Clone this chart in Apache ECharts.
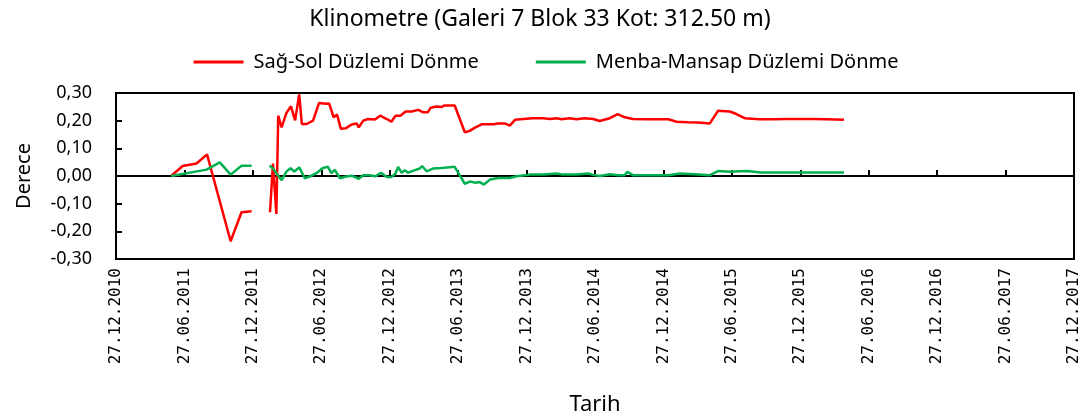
<!DOCTYPE html>
<html>
<head>
<meta charset="utf-8">
<script src="https://cdn.jsdelivr.net/npm/echarts@6/dist/echarts.min.js"></script>
<style>
  html, body { margin: 0; padding: 0; background: #fff; }
  #chart { width: 1092px; height: 417px; }
</style>
</head>
<body>
<div id="chart"></div>
<script>
var tickLabels = ['27.12.2010', '27.06.2011', '27.12.2011', '27.06.2012', '27.12.2012',
  '27.06.2013', '27.12.2013', '27.06.2014', '27.12.2014', '27.06.2015',
  '27.12.2015', '27.06.2016', '27.12.2016', '27.06.2017', '27.12.2017'];

// Sağ-Sol Düzlemi Dönme (null = missing readings)
var sagSolDates = ['2011-05-23', '2011-06-23', '2011-07-30', '2011-08-27', '2011-10-29', '2011-11-27', '2011-12-24',
  '2012-01-20',
  '2012-02-11', '2012-02-19', '2012-02-28', '2012-03-04', '2012-03-13', '2012-03-26', '2012-04-07', '2012-04-18',
  '2012-04-29', '2012-05-06', '2012-05-19', '2012-06-05', '2012-06-21', '2012-07-09', '2012-07-18', '2012-07-30',
  '2012-08-08', '2012-08-18', '2012-09-01', '2012-09-16', '2012-09-29', '2012-10-05', '2012-10-17', '2012-10-30',
  '2012-11-17', '2012-12-01', '2012-12-19', '2012-12-31', '2013-01-11', '2013-01-24', '2013-02-07', '2013-02-23',
  '2013-03-13', '2013-03-26', '2013-04-07', '2013-04-15', '2013-04-30', '2013-05-14', '2013-05-21', '2013-06-18',
  '2013-07-15', '2013-07-28', '2013-08-11', '2013-08-29', '2013-09-29', '2013-10-12', '2013-10-30', '2013-11-12',
  '2013-11-26', '2013-12-18', '2014-01-13', '2014-02-09', '2014-02-27', '2014-03-17', '2014-03-30', '2014-04-21',
  '2014-05-09', '2014-05-31', '2014-06-23', '2014-07-10', '2014-08-06', '2014-08-27', '2014-09-15', '2014-10-07',
  '2014-11-08', '2014-12-13', '2015-01-09', '2015-01-31', '2015-03-03', '2015-03-30', '2015-04-30', '2015-05-22',
  '2015-06-22', '2015-07-10', '2015-08-01', '2015-09-10', '2015-10-16', '2015-11-21', '2015-12-26', '2016-01-31',
  '2016-03-07', '2016-04-22'];
var sagSolValues = [0.000, 0.036, 0.045, 0.078, -0.236, -0.131, -0.127,
  null,
  -0.131, 0.045, -0.137, 0.218, 0.176, 0.228, 0.252, 0.201,
  0.295, 0.188, 0.188, 0.200, 0.264, 0.261, 0.262, 0.212,
  0.222, 0.171, 0.173, 0.186, 0.190, 0.176, 0.200, 0.206,
  0.204, 0.218, 0.206, 0.196, 0.218, 0.218, 0.233, 0.233,
  0.239, 0.230, 0.230, 0.247, 0.251, 0.249, 0.255, 0.255,
  0.158, 0.163, 0.175, 0.187, 0.187, 0.190, 0.190, 0.182,
  0.203, 0.206, 0.209, 0.209, 0.206, 0.209, 0.205, 0.209,
  0.205, 0.209, 0.206, 0.199, 0.209, 0.224, 0.212, 0.206,
  0.205, 0.205, 0.205, 0.196, 0.194, 0.193, 0.190, 0.236,
  0.233, 0.224, 0.209, 0.205, 0.205, 0.206, 0.206, 0.206,
  0.205, 0.203];

// Menba-Mansap Düzlemi Dönme
var menbaDates = ['2011-05-23', '2011-08-26', '2011-09-30', '2011-10-29', '2011-11-27', '2011-12-24',
  '2012-01-20',
  '2012-02-10', '2012-02-21', '2012-02-28', '2012-03-13', '2012-03-26', '2012-04-06', '2012-04-16', '2012-04-29',
  '2012-05-14', '2012-06-01', '2012-06-14', '2012-06-30', '2012-07-14', '2012-07-24', '2012-08-02', '2012-08-16',
  '2012-09-02', '2012-09-16', '2012-10-05', '2012-10-17', '2012-11-03', '2012-11-19', '2012-12-03', '2012-12-19',
  '2012-12-31', '2013-01-11', '2013-01-18', '2013-01-27', '2013-02-05', '2013-02-14', '2013-03-04', '2013-03-17',
  '2013-03-23', '2013-04-04', '2013-04-21', '2013-05-14', '2013-06-18', '2013-07-15', '2013-07-28', '2013-08-11',
  '2013-08-24', '2013-09-04', '2013-09-20', '2013-10-12', '2013-11-12', '2013-11-30', '2014-01-05', '2014-02-09',
  '2014-03-17', '2014-04-03', '2014-05-09', '2014-06-09', '2014-06-23', '2014-07-10', '2014-08-06', '2014-08-29',
  '2014-09-15', '2014-09-21', '2014-10-07', '2014-11-08', '2015-01-09', '2015-02-09', '2015-03-21', '2015-04-30',
  '2015-05-22', '2015-06-22', '2015-08-06', '2015-09-15', '2015-11-03', '2016-01-31', '2016-04-22'];
var menbaValues = [0.000, 0.023, 0.049, 0.005, 0.037, 0.037,
  null,
  0.038, 0.024, 0.010, -0.015, 0.016, 0.028, 0.016, 0.031,
  -0.008, 0.001, 0.010, 0.028, 0.034, 0.010, 0.022, -0.008,
  -0.002, 0.001, -0.010, 0.003, 0.003, -0.001, 0.012, -0.004,
  -0.004, 0.009, 0.033, 0.012, 0.021, 0.012, 0.021, 0.027,
  0.036, 0.017, 0.027, 0.029, 0.033, -0.028, -0.020, -0.024,
  -0.022, -0.031, -0.013, -0.007, -0.007, -0.001, 0.005, 0.005,
  0.009, 0.005, 0.005, 0.009, 0.004, 0.000, 0.006, 0.003,
  0.003, 0.015, 0.003, 0.003, 0.003, 0.009, 0.006, 0.003,
  0.018, 0.015, 0.018, 0.013, 0.013, 0.013, 0.013];

var startDay = Date.UTC(2010, 11, 27);
var spanDays = 2557;
var tickStep = spanDays / 14;

function dayOf(s) {
  var p = s.split('-').map(Number);
  return (Date.UTC(p[0], p[1] - 1, p[2]) - startDay) / 86400000;
}

function toPairs(dates, values) {
  return dates.map(function (d, i) {
    return [dayOf(d), values[i] === null ? '-' : values[i]];
  });
}

var chart = echarts.init(document.getElementById('chart'), null, { renderer: 'canvas' });

var txtFont = 'Noto Sans';

var option = {
  animation: false,
  title: {
    text: 'Klinometre (Galeri 7 Blok 33 Kot: 312.50 m)',
    left: 535,
    textAlign: 'center',
    top: 3,
    textStyle: { fontFamily: txtFont, fontSize: 23, fontWeight: 'normal', color: '#000' }
  },
  legend: {
    top: 47,
    left: 'center',
    icon: 'rect',
    itemWidth: 50,
    itemHeight: 3,
    itemGap: 57,
    textStyle: { fontFamily: txtFont, fontSize: 20, color: '#000', padding: [0, 0, 0, 5] },
    data: ['Sağ-Sol Düzlemi Dönme', 'Menba-Mansap Düzlemi Dönme']
  },
  grid: {
    left: 116, right: 18, top: 93, bottom: 158,
    show: true, borderColor: '#000', borderWidth: 2
  },
  xAxis: {
    type: 'value',
    min: 0,
    max: spanDays,
    interval: tickStep,
    name: 'Tarih',
    nameLocation: 'middle',
    nameGap: 135,
    nameTextStyle: { fontFamily: txtFont, fontSize: 22, color: '#000' },
    splitLine: { show: false },
    axisLine: { lineStyle: { color: '#000', width: 2 } },
    axisTick: { inside: true, length: 6, lineStyle: { color: '#000', width: 2 } },
    axisLabel: {
      rotate: 90,
      margin: 9,
      fontFamily: 'DejaVu Sans Mono',
      fontSize: 16,
      color: '#000',
      formatter: function (v) {
        return tickLabels[Math.round(v / tickStep)] || '';
      }
    }
  },
  yAxis: {
    type: 'value',
    min: -0.3,
    max: 0.3,
    interval: 0.1,
    name: 'Derece',
    nameLocation: 'middle',
    nameRotate: 90,
    nameGap: 82,
    nameTextStyle: { fontFamily: txtFont, fontSize: 20, color: '#000' },
    splitLine: { show: false },
    axisLine: { show: true, lineStyle: { color: '#000', width: 2 } },
    axisTick: { show: true, inside: true, length: 6, lineStyle: { color: '#000', width: 2 } },
    axisLabel: {
      margin: 24,
      fontFamily: txtFont,
      fontSize: 18,
      color: '#000',
      formatter: function (v) {
        return v.toFixed(2).replace('.', ',');
      }
    }
  },
  series: [
    {
      name: 'Sağ-Sol Düzlemi Dönme',
      type: 'line',
      showSymbol: false,
      connectNulls: false,
      color: '#ff0000',
      lineStyle: { width: 2.5 },
      data: toPairs(sagSolDates, sagSolValues)
    },
    {
      name: 'Menba-Mansap Düzlemi Dönme',
      type: 'line',
      showSymbol: false,
      connectNulls: false,
      color: '#00b050',
      lineStyle: { width: 2.5 },
      data: toPairs(menbaDates, menbaValues)
    }
  ]
};

chart.setOption(option);
</script>
</body>
</html>
